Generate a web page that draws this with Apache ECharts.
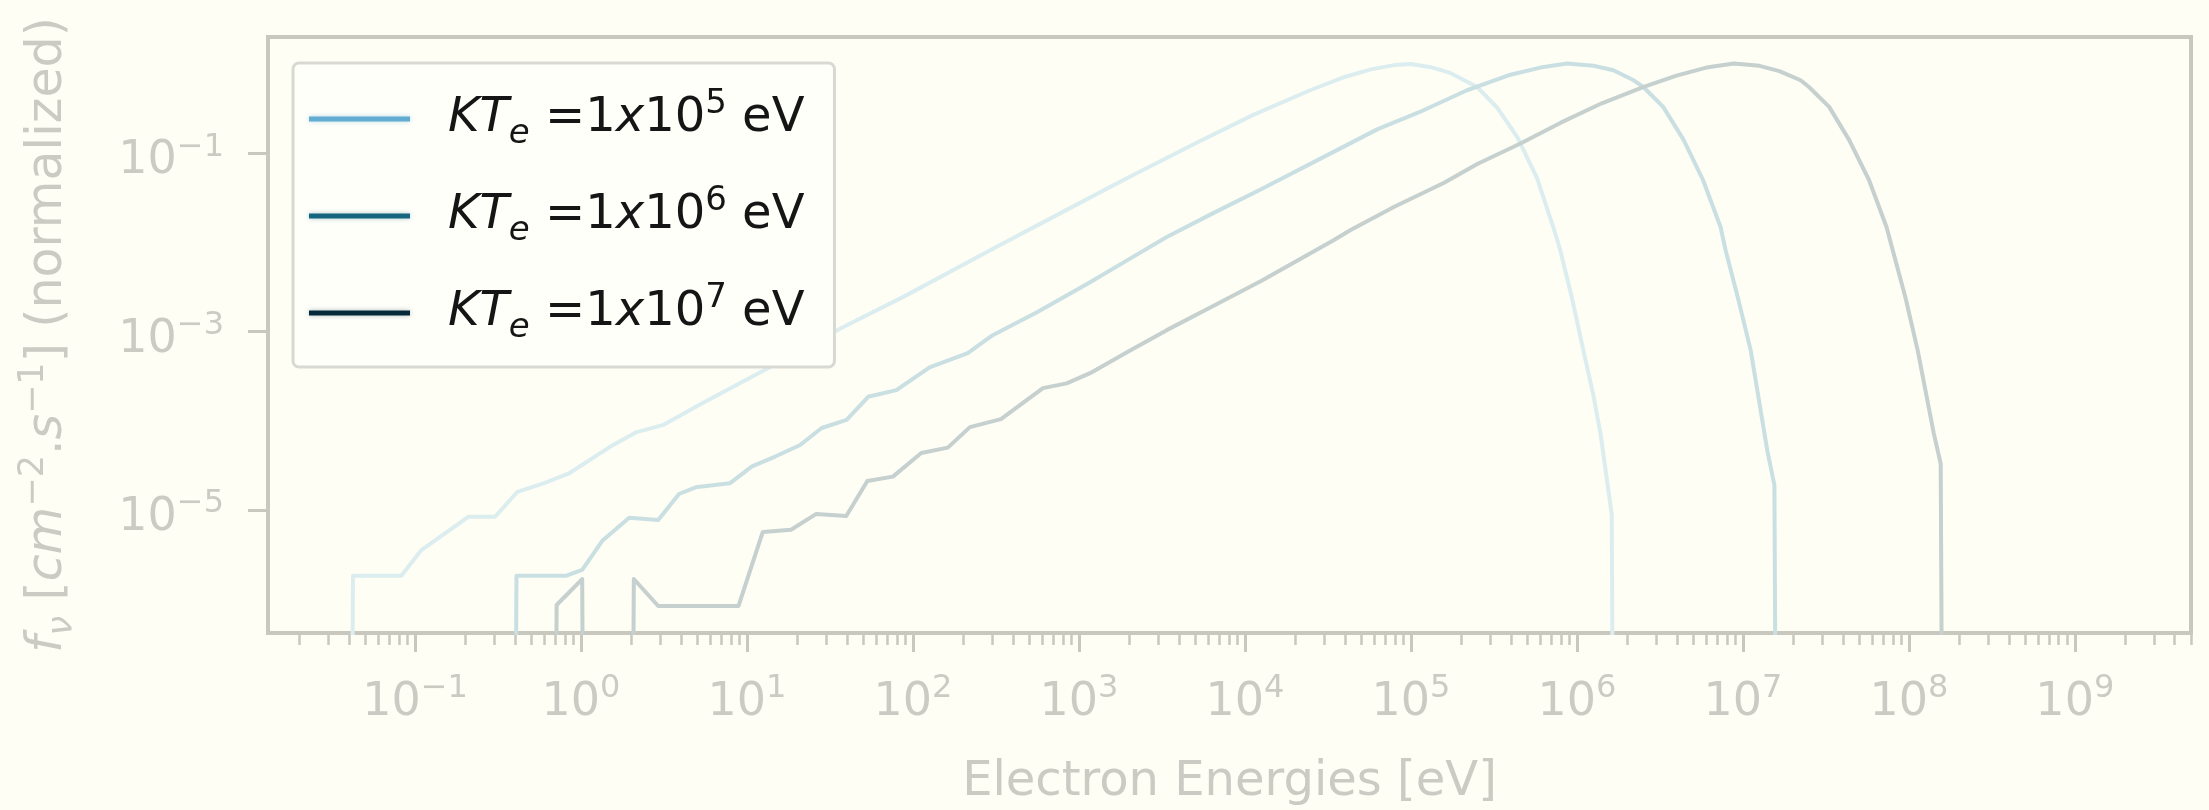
<!DOCTYPE html>
<html>
<head>
<meta charset="utf-8">
<script src="https://cdn.jsdelivr.net/npm/echarts@6/dist/echarts.min.js"></script>
<style>
html,body{margin:0;padding:0;background:#fefef5;}
#chart{width:2209px;height:810px;}
</style>
</head>
<body>
<div id="chart"></div>
<script>
// ---- data (log10 units) ----
const Z = -Infinity; // empty bin (zero counts) -> drawn like matplotlib's clipped log value

// electron temperature exponents (KT_e = 1x10^n eV)
const kTExps = [5, 6, 7];

// KT_e = 1e5 eV
const logE_kT5 = [-1.52, -1.374, -1.083, -0.962, -0.679, -0.518, -0.383, -0.222, -0.069, 0.172, 0.335, 0.492, 0.733, 1.137, 1.577, 1.939, 2.482, 2.90, 3.30, 3.70, 4.05, 4.393, 4.60, 4.76, 4.90, 5.00, 5.12, 5.237, 5.40, 5.52, 5.641, 5.76, 5.858, 5.90, 5.97, 6.039, 6.10, 6.142, 6.21, 6.36];
const logF_kT5 = [Z, -5.736, -5.736, -5.448, -5.075, -5.075, -4.795, -4.697, -4.585, -4.294, -4.126, -4.048, -3.801, -3.398, -2.950, -2.613, -2.07, -1.66, -1.27, -0.89, -0.57, -0.294, -0.145, -0.06, -0.012, 0.0, -0.035, -0.10, -0.258, -0.49, -0.82, -1.28, -1.83, -2.087, -2.62, -3.21, -3.72, -4.14, -5.05, Z];

// KT_e = 1e6 eV
const logE_kT6 = [-0.545, -0.389, -0.088, 0.007, 0.13, 0.29, 0.465, 0.59, 0.69, 0.896, 1.03, 1.17, 1.32, 1.45, 1.60, 1.73, 1.90, 2.10, 2.33, 2.48, 2.75, 3.067, 3.30, 3.529, 3.80, 4.10, 4.534, 4.80, 5.05, 5.338, 5.60, 5.78, 5.941, 6.10, 6.22, 6.342, 6.402, 6.52, 6.643, 6.76, 6.866, 6.896, 6.97, 7.047, 7.147, 7.19, 7.34];
const logF_kT6 = [Z, -5.736, -5.736, -5.67, -5.34, -5.085, -5.11, -4.82, -4.745, -4.70, -4.51, -4.40, -4.27, -4.08, -3.99, -3.73, -3.655, -3.40, -3.24, -3.04, -2.78, -2.445, -2.19, -1.938, -1.68, -1.40, -0.985, -0.73, -0.54, -0.294, -0.12, -0.04, 0.005, -0.02, -0.07, -0.182, -0.26, -0.48, -0.85, -1.30, -1.83, -2.087, -2.62, -3.207, -4.33, -4.72, Z];

// KT_e = 1e7 eV
const logE_kT7 = [-0.30, -0.147, 0.007, 0.163, 0.318, 0.465, 0.949, 1.095, 1.265, 1.415, 1.598, 1.725, 1.879, 2.05, 2.21, 2.343, 2.53, 2.783, 2.926, 3.067, 3.30, 3.529, 3.80, 4.10, 4.534, 4.634, 4.90, 5.20, 5.40, 5.66, 5.90, 6.15, 6.403, 6.60, 6.78, 6.946, 7.10, 7.22, 7.348, 7.40, 7.52, 7.64, 7.76, 7.866, 7.903, 7.98, 8.053, 8.150, 8.192, 8.34];
const logF_kT7 = [Z, -6.064, -5.773, Z, -5.773, -6.075, -6.075, -5.245, -5.22, -5.045, -5.067, -4.675, -4.625, -4.361, -4.30, -4.07, -3.98, -3.633, -3.58, -3.465, -3.22, -2.983, -2.72, -2.43, -1.975, -1.863, -1.60, -1.33, -1.12, -0.891, -0.66, -0.44, -0.257, -0.13, -0.04, 0.005, -0.02, -0.08, -0.182, -0.26, -0.48, -0.85, -1.30, -1.83, -2.087, -2.62, -3.207, -4.137, -4.48, Z];

// tick label exponents
const xTickExps = [-1, 0, 1, 2, 3, 4, 5, 6, 7, 8, 9];
const yTickExps = [-5, -3, -1];

// ---- presentation ----
const X_MIN = -1.886, X_MAX = 9.70, Y_MIN = -6.378, Y_MAX = 0.303;
const FLOOR = -60;
const FONT = 'DejaVu Sans';
const SPINE = '#c8c8bf';
const LABEL = '#cbcbc3';
const LINE_COLORS = ['#dcedf0', '#c9dfe2', '#c5d0cf'];
const LEGEND_COLORS = ['#62abd1', '#16667f', '#072a3a'];
const LEGEND_HALO = ['rgba(98,171,209,0.45)', 'rgba(22,102,127,0.35)', 'rgba(7,42,58,0.3)'];

const curves = [[logE_kT5, logF_kT5], [logE_kT6, logF_kT6], [logE_kT7, logF_kT7]];
const names = kTExps.map(n => 'KTe=1x10^' + n + ' eV');

function toPairs(E, F) {
  return E.map((e, i) => [e, Number.isFinite(F[i]) ? F[i] : FLOOR]);
}
function supText(n) {
  n = Math.round(n);
  return n < 0 ? '\u2212' + Math.abs(n) : String(n);
}
const minorTicks = [];
for (let n = -2; n <= 9; n++) {
  for (let k = 2; k <= 9; k++) {
    const v = n + Math.log10(k);
    if (v > X_MIN && v < X_MAX + 0.005) minorTicks.push(v);
  }
}

const tickRich = {
  b: {fontFamily: FONT, fontSize: 46, lineHeight: 60, color: LABEL},
  s: {fontFamily: FONT, fontSize: 32, lineHeight: 30, verticalAlign: 'top', color: LABEL}
};

const chart = echarts.init(document.getElementById('chart'), null, {renderer: 'canvas'});
chart.setOption({
  animation: false,
  backgroundColor: '#fefef5',
  grid: {
    left: 268, right: 18, top: 37, bottom: 177,
    containLabel: false, outerBoundsMode: 'none',
    show: true, borderColor: SPINE, borderWidth: 4, backgroundColor: 'transparent'
  },
  legend: {
    orient: 'vertical', left: 293, top: 63,
    padding: [24, 30, 22, 16], itemGap: 33, itemWidth: 101, itemHeight: 5,
    backgroundColor: '#fffffa', borderColor: '#d9d9d4', borderWidth: 3, borderRadius: 6,
    data: names.map((n, i) => ({
      name: n, icon: 'rect',
      itemStyle: {color: LEGEND_COLORS[i], opacity: 1, shadowColor: LEGEND_HALO[i], shadowBlur: 5}
    })),
    formatter: name => {
      const i = names.indexOf(name);
      return '{k|KT}{sub|e}{n| =1}{it|x}{n|10}{sup|' + kTExps[i] + '}{n| eV}';
    },
    textStyle: {
      fontFamily: FONT, fontSize: 48, color: '#151515',
      rich: {
        n: {fontFamily: FONT, fontSize: 48, lineHeight: 64, color: '#151515'},
        k: {fontFamily: FONT, fontSize: 48, lineHeight: 64, fontStyle: 'italic', color: '#151515', padding: [0, 0, 0, 33]},
        it: {fontFamily: FONT, fontSize: 48, lineHeight: 64, fontStyle: 'italic', color: '#151515'},
        sub: {fontFamily: FONT, fontSize: 34, lineHeight: 42, verticalAlign: 'bottom', fontStyle: 'italic', color: '#151515'},
        sup: {fontFamily: FONT, fontSize: 34, lineHeight: 34, verticalAlign: 'top', color: '#151515'}
      }
    }
  },
  xAxis: [
    {
      type: 'value', min: X_MIN, max: X_MAX, position: 'bottom',
      axisLine: {show: false, onZero: false}, splitLine: {show: false},
      axisTick: {show: true, customValues: xTickExps, length: 19, lineStyle: {color: SPINE, width: 3}},
      axisLabel: {
        show: true, customValues: xTickExps, margin: 40,
        formatter: v => '{b|10}{s|' + supText(v) + '}', rich: tickRich
      },
      name: 'Electron Energies [eV]', nameLocation: 'middle', nameGap: 126,
      nameTextStyle: {fontFamily: FONT, fontSize: 48, lineHeight: 48, color: LABEL}
    },
    {
      type: 'value', min: X_MIN, max: X_MAX, position: 'bottom', offset: 0,
      axisLine: {show: false, onZero: false}, splitLine: {show: false}, axisLabel: {show: false},
      axisTick: {show: true, customValues: minorTicks, length: 12, lineStyle: {color: SPINE, width: 2.5}}
    }
  ],
  yAxis: {
    type: 'value', min: Y_MIN, max: Y_MAX, position: 'left',
    axisLine: {show: false, onZero: false}, splitLine: {show: false},
    axisTick: {show: true, customValues: yTickExps, length: 20, lineStyle: {color: SPINE, width: 3}},
    axisLabel: {
      show: true, customValues: yTickExps, margin: 44, padding: [16, 0, 0, 0],
      formatter: v => '{b|10}{s|' + supText(v) + '}', rich: tickRich
    },
    name: '{it|f}{sub|\u03bd} [{it|cm}{sup|\u22122}.{it|s}{sup|\u22121}] (normalized)',
    nameLocation: 'middle', nameGap: 188,
    nameTextStyle: {
      fontFamily: FONT, fontSize: 49, lineHeight: 64, color: LABEL,
      rich: {
        it: {fontFamily: FONT, fontSize: 49, lineHeight: 64, fontStyle: 'italic', color: LABEL},
        sub: {fontFamily: FONT, fontSize: 35, lineHeight: 42, verticalAlign: 'bottom', fontStyle: 'italic', color: LABEL},
        sup: {fontFamily: FONT, fontSize: 35, lineHeight: 34, verticalAlign: 'top', color: LABEL}
      }
    }
  },
  series: curves.map((c, i) => ({
    name: names[i], type: 'line', xAxisIndex: 0, yAxisIndex: 0,
    data: toPairs(c[0], c[1]),
    symbol: 'none', showSymbol: false, smooth: false, clip: true, silent: true,
    lineStyle: {color: LINE_COLORS[i], width: 4, cap: 'round', join: 'round'},
    itemStyle: {color: LINE_COLORS[i]}
  }))
});
</script>
</body>
</html>
